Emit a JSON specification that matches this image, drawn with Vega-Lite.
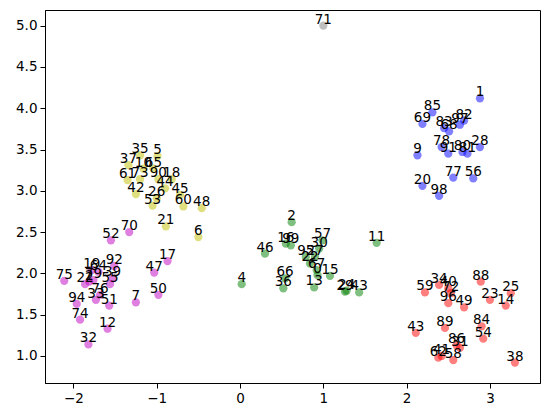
{
  "$schema": "https://vega.github.io/schema/vega-lite/v6.json",
  "width": 495,
  "height": 373,
  "autosize": {"type": "none"},
  "padding": {"left": 45, "top": 10, "right": 7, "bottom": 30},
  "background": "white",
  "config": {
    "view": {"stroke": "black", "strokeWidth": 1},
    "axis": {"grid": false, "domainColor": "black", "tickColor": "black", "labelColor": "black", "labelFont": "DejaVu Sans", "labelFontSize": 13.5, "tickSize": 5, "labelPadding": 3, "domainWidth": 1, "tickWidth": 1}
  },
  "data": {"values": [
    {"x": 2.88, "y": 4.12, "c": "blue", "l": "1"},
    {"x": 2.31, "y": 3.95, "c": "blue", "l": "85"},
    {"x": 2.19, "y": 3.81, "c": "blue", "l": "69"},
    {"x": 2.45, "y": 3.76, "c": "blue", "l": "83"},
    {"x": 2.64, "y": 3.80, "c": "blue", "l": "97"},
    {"x": 2.69, "y": 3.85, "c": "blue", "l": "82"},
    {"x": 2.51, "y": 3.72, "c": "blue", "l": "68"},
    {"x": 2.42, "y": 3.53, "c": "blue", "l": "78"},
    {"x": 2.13, "y": 3.43, "c": "blue", "l": "9"},
    {"x": 2.50, "y": 3.45, "c": "blue", "l": "91"},
    {"x": 2.67, "y": 3.47, "c": "blue", "l": "80"},
    {"x": 2.73, "y": 3.45, "c": "blue", "l": "81"},
    {"x": 2.88, "y": 3.53, "c": "blue", "l": "28"},
    {"x": 2.56, "y": 3.16, "c": "blue", "l": "77"},
    {"x": 2.80, "y": 3.15, "c": "blue", "l": "56"},
    {"x": 2.19, "y": 3.06, "c": "blue", "l": "20"},
    {"x": 2.39, "y": 2.94, "c": "blue", "l": "98"},
    {"x": -1.20, "y": 3.43, "c": "yellow", "l": "35"},
    {"x": -0.99, "y": 3.42, "c": "yellow", "l": "5"},
    {"x": -1.34, "y": 3.31, "c": "yellow", "l": "37"},
    {"x": -1.04, "y": 3.27, "c": "yellow", "l": "65"},
    {"x": -1.16, "y": 3.27, "c": "yellow", "l": "10"},
    {"x": -1.35, "y": 3.13, "c": "yellow", "l": "61"},
    {"x": -1.20, "y": 3.14, "c": "yellow", "l": "73"},
    {"x": -0.98, "y": 3.14, "c": "yellow", "l": "90"},
    {"x": -0.82, "y": 3.14, "c": "yellow", "l": "18"},
    {"x": -0.90, "y": 3.03, "c": "yellow", "l": "44"},
    {"x": -1.25, "y": 2.96, "c": "yellow", "l": "42"},
    {"x": -1.00, "y": 2.91, "c": "yellow", "l": "26"},
    {"x": -1.05, "y": 2.82, "c": "yellow", "l": "53"},
    {"x": -0.72, "y": 2.95, "c": "yellow", "l": "45"},
    {"x": -0.68, "y": 2.81, "c": "yellow", "l": "60"},
    {"x": -0.46, "y": 2.79, "c": "yellow", "l": "48"},
    {"x": -0.89, "y": 2.57, "c": "yellow", "l": "21"},
    {"x": -0.50, "y": 2.44, "c": "yellow", "l": "6"},
    {"x": -1.33, "y": 2.50, "c": "magenta", "l": "70"},
    {"x": -1.55, "y": 2.40, "c": "magenta", "l": "52"},
    {"x": -0.87, "y": 2.15, "c": "magenta", "l": "17"},
    {"x": -1.03, "y": 2.01, "c": "magenta", "l": "47"},
    {"x": -1.51, "y": 2.09, "c": "magenta", "l": "92"},
    {"x": -1.78, "y": 2.04, "c": "magenta", "l": "19"},
    {"x": -1.70, "y": 2.02, "c": "magenta", "l": "64"},
    {"x": -2.11, "y": 1.91, "c": "magenta", "l": "75"},
    {"x": -1.86, "y": 1.87, "c": "magenta", "l": "22"},
    {"x": -1.76, "y": 1.92, "c": "magenta", "l": "79"},
    {"x": -1.81, "y": 1.90, "c": "magenta", "l": "2"},
    {"x": -1.53, "y": 1.94, "c": "magenta", "l": "39"},
    {"x": -1.56, "y": 1.87, "c": "magenta", "l": "55"},
    {"x": -1.68, "y": 1.74, "c": "magenta", "l": "76"},
    {"x": -1.73, "y": 1.68, "c": "magenta", "l": "33"},
    {"x": -1.57, "y": 1.61, "c": "magenta", "l": "51"},
    {"x": -1.25, "y": 1.65, "c": "magenta", "l": "7"},
    {"x": -0.98, "y": 1.74, "c": "magenta", "l": "50"},
    {"x": -1.96, "y": 1.63, "c": "magenta", "l": "94"},
    {"x": -1.92, "y": 1.44, "c": "magenta", "l": "74"},
    {"x": -1.59, "y": 1.33, "c": "magenta", "l": "12"},
    {"x": -1.82, "y": 1.14, "c": "magenta", "l": "32"},
    {"x": 0.62, "y": 2.62, "c": "green", "l": "2"},
    {"x": 0.55, "y": 2.36, "c": "green", "l": "16"},
    {"x": 0.61, "y": 2.34, "c": "green", "l": "99"},
    {"x": 0.30, "y": 2.24, "c": "green", "l": "46"},
    {"x": 0.99, "y": 2.40, "c": "green", "l": "57"},
    {"x": 0.95, "y": 2.30, "c": "green", "l": "30"},
    {"x": 1.64, "y": 2.37, "c": "green", "l": "11"},
    {"x": 0.79, "y": 2.20, "c": "green", "l": "95"},
    {"x": 0.90, "y": 2.20, "c": "green", "l": "27"},
    {"x": 0.84, "y": 2.12, "c": "green", "l": "22"},
    {"x": 0.92, "y": 2.04, "c": "green", "l": "67"},
    {"x": 0.93, "y": 1.98, "c": "green", "l": "0"},
    {"x": 1.08, "y": 1.97, "c": "green", "l": "15"},
    {"x": 0.54, "y": 1.94, "c": "green", "l": "66"},
    {"x": 0.52, "y": 1.82, "c": "green", "l": "36"},
    {"x": 0.89, "y": 1.83, "c": "green", "l": "13"},
    {"x": 0.02, "y": 1.87, "c": "green", "l": "4"},
    {"x": 1.26, "y": 1.78, "c": "green", "l": "29"},
    {"x": 1.28, "y": 1.79, "c": "green", "l": "24"},
    {"x": 1.43, "y": 1.77, "c": "green", "l": "43"},
    {"x": 2.39, "y": 1.86, "c": "red", "l": "34"},
    {"x": 2.22, "y": 1.77, "c": "red", "l": "59"},
    {"x": 2.50, "y": 1.82, "c": "red", "l": "40"},
    {"x": 2.53, "y": 1.76, "c": "red", "l": "72"},
    {"x": 2.50, "y": 1.64, "c": "red", "l": "96"},
    {"x": 2.69, "y": 1.59, "c": "red", "l": "49"},
    {"x": 2.89, "y": 1.90, "c": "red", "l": "88"},
    {"x": 3.00, "y": 1.68, "c": "red", "l": "23"},
    {"x": 3.25, "y": 1.76, "c": "red", "l": "25"},
    {"x": 3.19, "y": 1.61, "c": "red", "l": "14"},
    {"x": 2.11, "y": 1.28, "c": "red", "l": "43"},
    {"x": 2.46, "y": 1.34, "c": "red", "l": "89"},
    {"x": 2.90, "y": 1.36, "c": "red", "l": "84"},
    {"x": 2.92, "y": 1.21, "c": "red", "l": "54"},
    {"x": 2.60, "y": 1.13, "c": "red", "l": "86"},
    {"x": 2.64, "y": 1.10, "c": "red", "l": "31"},
    {"x": 2.38, "y": 0.98, "c": "red", "l": "62"},
    {"x": 2.42, "y": 1.00, "c": "red", "l": "41"},
    {"x": 2.56, "y": 0.95, "c": "red", "l": "58"},
    {"x": 3.30, "y": 0.92, "c": "red", "l": "38"},
    {"x": 1.00, "y": 5.00, "c": "grey", "l": "71"}
  ]},
  "encoding": {
    "x": {"field": "x", "type": "quantitative", "scale": {"domain": [-2.341, 3.601], "nice": false, "zero": false},
      "axis": {"title": null, "values": [-2, -1, 0, 1, 2, 3], "format": "d"}},
    "y": {"field": "y", "type": "quantitative", "scale": {"domain": [0.673, 5.189], "nice": false, "zero": false},
      "axis": {"title": null, "values": [1, 1.5, 2, 2.5, 3, 3.5, 4, 4.5, 5], "format": ".1f"}}
  },
  "layer": [
    {"mark": {"type": "point", "shape": "circle", "filled": true, "size": 68, "opacity": 0.5, "strokeWidth": 0},
     "encoding": {"color": {"field": "c", "type": "nominal", "legend": null,
       "scale": {"domain": ["blue", "yellow", "magenta", "green", "red", "grey"], "range": ["#0000ff", "#bfbf00", "#bf00bf", "#008000", "#ff0000", "#808080"]}}}},
    {"mark": {"type": "text", "font": "DejaVu Sans", "fontSize": 13.5, "align": "center", "baseline": "alphabetic", "dy": -2, "color": "black"},
     "encoding": {"text": {"field": "l", "type": "nominal"}}}
  ]
}
